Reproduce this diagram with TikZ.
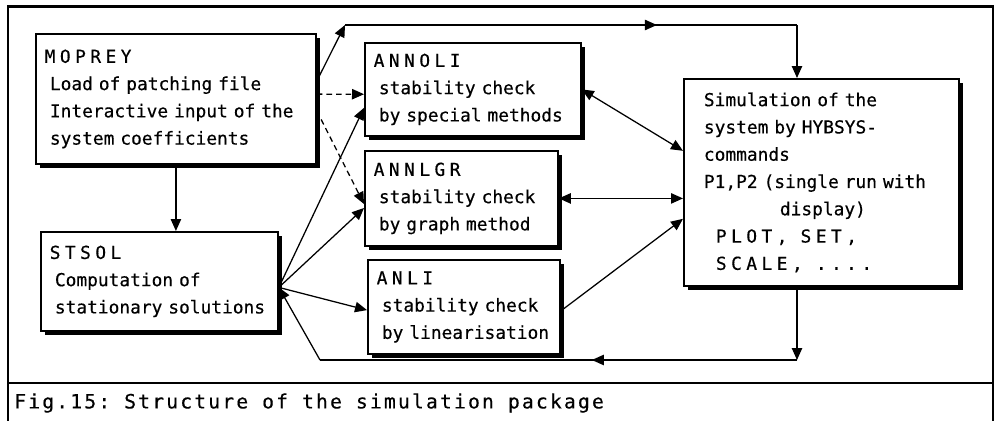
\documentclass[tikz,border=0pt]{standalone}
\usepackage{fontspec}
\setmonofont{DejaVu Sans Mono}
\usepackage{tikz}
\usetikzlibrary{arrows.meta}
\usetikzlibrary{shadows}
\usetikzlibrary{decorations.markings}

\newcommand{\spaced}[1]{{\addfontfeature{LetterSpace=25}#1}}
\newcommand{\hdr}[1]{\hspace*{-0.13cm}\spaced{#1}}

\tikzset{
    blk/.style={draw, line width=1.3pt, fill=white, anchor=north west,
        align=left, inner xsep=0.05cm, inner ysep=0pt,
        font=\ttfamily\fontsize{12.7}{19.4}\selectfont\addfontfeature{FakeBold=0.4},
        execute at begin node={\leftskip=0.3cm},
        drop shadow={shadow xshift=0.1cm, shadow yshift=-0.1cm, fill=black, opacity=1}},
    lnk/.style={line width=0.9pt},
    dsh/.style={line width=0.9pt, dash pattern=on 0.14cm off 0.1cm},
    midarr/.style={postaction={decorate}, decoration={markings, mark=at position #1 with {\arrow{>}}}}
}

\begin{document}
\begin{tikzpicture}[>={Triangle[length=0.3cm,width=0.26cm]}]
    \useasboundingbox (0,0) rectangle (24.9,10.525);

    % frame and caption
    \draw[line width=2pt] (0.2,0.95) rectangle (24.825,10.3625);
    \draw[line width=2pt] (0.2,0.95) -- (0.2,0);
    \draw[line width=1.2pt] (24.825,0.95) -- (24.825,0);
    \node[anchor=west, inner sep=0pt, font=\ttfamily\fontsize{14}{16}\selectfont\addfontfeature{LetterSpace=11,FakeBold=0.4}] (cap) at (0.35,0.45) {Fig.15: Structure of the simulation package};

    % program blocks
    \node[blk, text width=6.9cm, minimum height=3.25cm] (moprey) at (0.875,9.7) {\hdr{MOPREY}\\Load of patching file\\Interactive input of the\\system coefficients};
    \node[blk, text width=5.825cm, minimum height=2.475cm] (stsol) at (1.0,4.75) {\hdr{STSOL}\\Computation of\\stationary solutions};
    \node[blk, text width=5.3cm, minimum height=2.325cm] (annoli) at (9.1,9.475) {\hdr{ANNOLI}\\stability check\\by special methods};
    \node[blk, text width=4.725cm, minimum height=2.375cm] (annlgr) at (9.1,6.775) {\hdr{ANNLGR}\\stability check\\by graph method};
    \node[blk, text width=4.7cm, minimum height=2.35cm] (anli) at (9.175,4.05) {\hdr{ANLI}\\stability check\\by linearisation};
    \node[blk, text width=6.775cm, minimum height=5.175cm, execute at begin node={\leftskip=0.45cm}] (sim) at (17.075,8.575) {Simulation of the\\system by HYBSYS-\\commands\\P1,P2 (single run with\\\hspace*{1.9cm}display)\\\hspace*{0.3cm}\spaced{PLOT,\hspace{0.4em} SET,}\\\hspace*{0.3cm}\spaced{SCALE,\hspace{0.4em} ....}};

    % bends of the outer loops
    \coordinate (tl) at (8.625,9.9);
    \coordinate (tr) at (19.925,9.9);
    \coordinate (br) at (19.925,1.525);
    \coordinate (bl) at (8.0,1.525);
    \coordinate (hub) at ([yshift=-0.15cm]stsol.east);

    % connections
    \draw[lnk,->] ([yshift=0.45cm]moprey.east) -- (tl);
    \draw[lnk,midarr=0.69] (tl) -- (tr);
    \draw[lnk,->] (tr) -- (tr |- sim.north);
    \draw[dsh,->] ([yshift=0.12cm]moprey.east) -- ([yshift=-0.12cm]annoli.west);
    \draw[dsh,->] ([yshift=-0.3cm]moprey.east) -- ([yshift=-0.14cm]annlgr.west);
    \draw[lnk,->] (moprey) -- (stsol.north -| moprey);
    \draw[lnk,->] (hub) -- ([yshift=-0.46cm]annoli.west);
    \draw[lnk,->] (hub) -- ([yshift=-0.24cm]annlgr.west);
    \draw[lnk,->] (hub) -- ([yshift=-0.08cm]anli.west);
    \draw[lnk,<->] (annoli.east) -- ([yshift=0.79cm]sim.west);
    \draw[lnk,<->] (annlgr.east) -- (annlgr.east -| sim.west);
    \draw[lnk,->] ([yshift=-0.1cm]anli.east) -- ([yshift=-0.91cm]sim.west);
    \draw[lnk,->] (sim.south -| br) -- (br);
    \draw[lnk,midarr=0.43] (br) -- (bl);
    \draw[lnk,->] (bl) -- (hub);
\end{tikzpicture}
\end{document}
